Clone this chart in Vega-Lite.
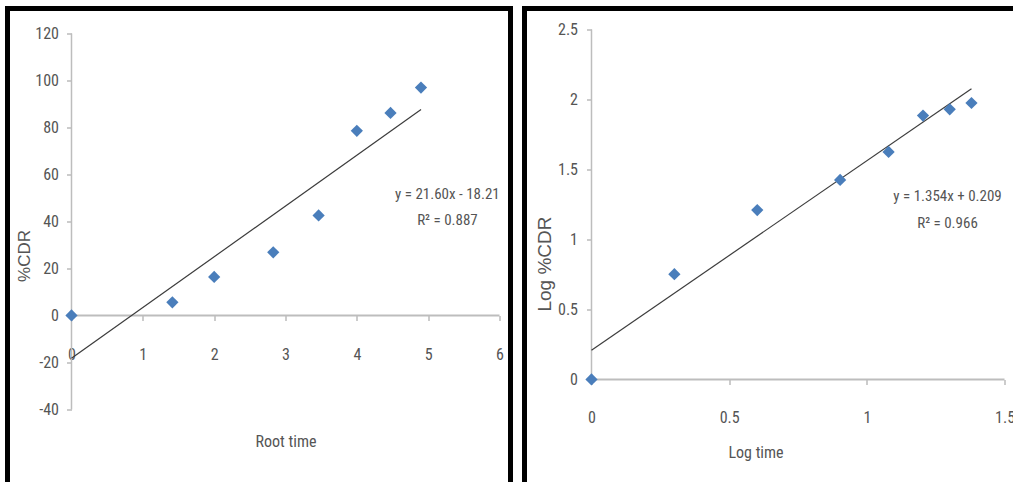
{
  "$schema": "https://vega.github.io/schema/vega-lite/v6.json",
  "padding": {"left": 4.5, "top": 5.5, "right": 0, "bottom": 0},
  "spacing": 14,
  "bounds": "flush",
  "background": "white",
  "config": {
    "view": {"stroke": "black", "strokeWidth": 5},
    "axis": {"grid": false, "domain": false, "labelFlush": false, "labelOverlap": false, "labelBound": false}
  },
  "datasets": {
    "sqrt_data": [
      {"root_time": 0, "cdr": 0},
      {"root_time": 1.414, "cdr": 5.6},
      {"root_time": 2.0, "cdr": 16.4},
      {"root_time": 2.828, "cdr": 26.9},
      {"root_time": 3.464, "cdr": 42.6},
      {"root_time": 4.0, "cdr": 78.6},
      {"root_time": 4.472, "cdr": 86.2},
      {"root_time": 4.899, "cdr": 97.0}
    ],
    "log_data": [
      {"log_time": 0, "log_cdr": 0},
      {"log_time": 0.301, "log_cdr": 0.752},
      {"log_time": 0.602, "log_cdr": 1.21},
      {"log_time": 0.903, "log_cdr": 1.425},
      {"log_time": 1.079, "log_cdr": 1.625},
      {"log_time": 1.204, "log_cdr": 1.885},
      {"log_time": 1.301, "log_cdr": 1.93},
      {"log_time": 1.380, "log_cdr": 1.975}
    ],
    "single": [{}]
  },
  "hconcat": [
    {
      "width": 503,
      "height": 480,
      "layer": [
        {
          "data": {"name": "single"},
          "mark": {"type": "rule", "color": "#BDBDBD", "strokeWidth": 1.5},
          "encoding": {"x": {"datum": 0, "type": "quantitative"}, "y": {"datum": -40, "type": "quantitative"}, "y2": {"datum": 120}}
        },
        {
          "data": {"name": "single"},
          "mark": {"type": "rule", "color": "#BDBDBD", "strokeWidth": 2},
          "encoding": {"x": {"datum": 0, "type": "quantitative"}, "x2": {"datum": 6}, "y": {"datum": 0, "type": "quantitative"}}
        },
        {
          "data": {"name": "single"},
          "mark": {"type": "rule", "color": "#3C3C3C", "strokeWidth": 1.2},
          "encoding": {"x": {"datum": 0, "type": "quantitative"}, "y": {"datum": -18.21, "type": "quantitative"}, "x2": {"datum": 4.9}, "y2": {"datum": 87.63}}
        },
        {
          "data": {"name": "sqrt_data"},
          "mark": {"type": "point", "shape": "diamond", "filled": true, "size": 150, "color": "#4A7EBB", "opacity": 1},
          "encoding": {
            "x": {
              "field": "root_time", "type": "quantitative",
              "scale": {"domain": [-0.897, 6.154], "nice": false, "zero": false},
              "axis": {
                "values": [0, 1, 2, 3, 4, 5, 6], "offset": -173, "tickSize": 5, "tickColor": "#BBBBBB", "tickWidth": 1.5,
                "labelPadding": 26, "labelExpr": "'' + datum.value",
                "labelFont": "Liberation Sans Narrow, Roboto Condensed, Liberation Sans", "labelFontSize": 16, "labelFontWeight": "normal", "labelColor": "#555555",
                "title": "Root time", "titleX": 278, "titleY": 126, "titleBaseline": "middle", "titleAlign": "center",
                "titleFont": "Liberation Sans Narrow, Roboto Condensed, Liberation Sans", "titleFontSize": 16, "titleFontWeight": "normal", "titleColor": "#555555"
              }
            },
            "y": {
              "field": "cdr", "type": "quantitative",
              "scale": {"domain": [-73.62, 130.64], "nice": false, "zero": false},
              "axis": {
                "values": [-40, -20, 0, 20, 40, 60, 80, 100, 120], "offset": -64, "tickSize": 5, "tickColor": "#BBBBBB", "tickWidth": 1.5,
                "labelPadding": 8, "labelExpr": "'' + datum.value",
                "labelFont": "Liberation Sans Narrow, Roboto Condensed, Liberation Sans", "labelFontSize": 16, "labelFontWeight": "normal", "labelColor": "#555555",
                "title": "%CDR", "titleX": -47, "titleY": 247, "titleAngle": 270, "titleBaseline": "middle", "titleAlign": "center",
                "titleFont": "Liberation Sans", "titleFontSize": 17, "titleFontWeight": "normal", "titleColor": "#555555"
              }
            }
          }
        },
        {
          "data": {"name": "single"},
          "mark": {"type": "text", "text": ["y = 21.60x - 18.21", "R² = 0.887"], "lineHeight": 26, "align": "center", "baseline": "middle",
                   "font": "Liberation Sans Narrow, Roboto Condensed, Liberation Sans", "fontSize": 15, "fontWeight": "normal", "color": "#555555"},
          "encoding": {"x": {"datum": 5.27, "type": "quantitative"}, "y": {"datum": 51.9, "type": "quantitative"}}
        }
      ]
    },
    {
      "width": 500,
      "height": 480,
      "layer": [
        {
          "data": {"name": "single"},
          "mark": {"type": "rule", "color": "#BDBDBD", "strokeWidth": 1.5},
          "encoding": {"x": {"datum": 0, "type": "quantitative"}, "y": {"datum": 0, "type": "quantitative"}, "y2": {"datum": 2.5}}
        },
        {
          "data": {"name": "single"},
          "mark": {"type": "rule", "color": "#BDBDBD", "strokeWidth": 2},
          "encoding": {"x": {"datum": 0, "type": "quantitative"}, "x2": {"datum": 1.5}, "y": {"datum": 0, "type": "quantitative"}}
        },
        {
          "data": {"name": "single"},
          "mark": {"type": "rule", "color": "#3C3C3C", "strokeWidth": 1.2},
          "encoding": {"x": {"datum": 0, "type": "quantitative"}, "y": {"datum": 0.209, "type": "quantitative"}, "x2": {"datum": 1.38}, "y2": {"datum": 2.077}}
        },
        {
          "data": {"name": "log_data"},
          "mark": {"type": "point", "shape": "diamond", "filled": true, "size": 150, "color": "#4A7EBB", "opacity": 1},
          "encoding": {
            "x": {
              "field": "log_time", "type": "quantitative",
              "scale": {"domain": [-0.2433, 1.5726], "nice": false, "zero": false},
              "axis": {
                "values": [0, 0.5, 1, 1.5], "offset": -109, "tickSize": 5, "tickColor": "#BBBBBB", "tickWidth": 1.5,
                "labelPadding": 25, "labelExpr": "'' + datum.value",
                "labelFont": "Liberation Sans Narrow, Roboto Condensed, Liberation Sans", "labelFontSize": 16, "labelFontWeight": "normal", "labelColor": "#555555",
                "title": "Log time", "titleX": 231, "titleY": 73, "titleBaseline": "middle", "titleAlign": "center",
                "titleFont": "Liberation Sans Narrow, Roboto Condensed, Liberation Sans", "titleFontSize": 16, "titleFontWeight": "normal", "titleColor": "#555555"
              }
            },
            "y": {
              "field": "log_cdr", "type": "quantitative",
              "scale": {"domain": [-0.7786, 2.65], "nice": false, "zero": false},
              "axis": {
                "values": [0, 0.5, 1, 1.5, 2, 2.5], "offset": -67, "tickSize": 5, "tickColor": "#BBBBBB", "tickWidth": 1.5,
                "labelPadding": 9, "labelExpr": "'' + datum.value",
                "labelFont": "Liberation Sans Narrow, Roboto Condensed, Liberation Sans", "labelFontSize": 16, "labelFontWeight": "normal", "labelColor": "#555555",
                "title": "Log %CDR", "titleX": -47, "titleY": 255, "titleAngle": 270, "titleBaseline": "middle", "titleAlign": "center",
                "titleFont": "Liberation Sans", "titleFontSize": 19, "titleFontWeight": "normal", "titleColor": "#555555"
              }
            }
          }
        },
        {
          "data": {"name": "single"},
          "mark": {"type": "text", "text": ["y = 1.354x + 0.209", "R² = 0.966"], "lineHeight": 27, "align": "center", "baseline": "middle",
                   "font": "Liberation Sans Narrow, Roboto Condensed, Liberation Sans", "fontSize": 15, "fontWeight": "normal", "color": "#555555"},
          "encoding": {"x": {"datum": 1.293, "type": "quantitative"}, "y": {"datum": 1.314, "type": "quantitative"}}
        }
      ]
    }
  ]
}
